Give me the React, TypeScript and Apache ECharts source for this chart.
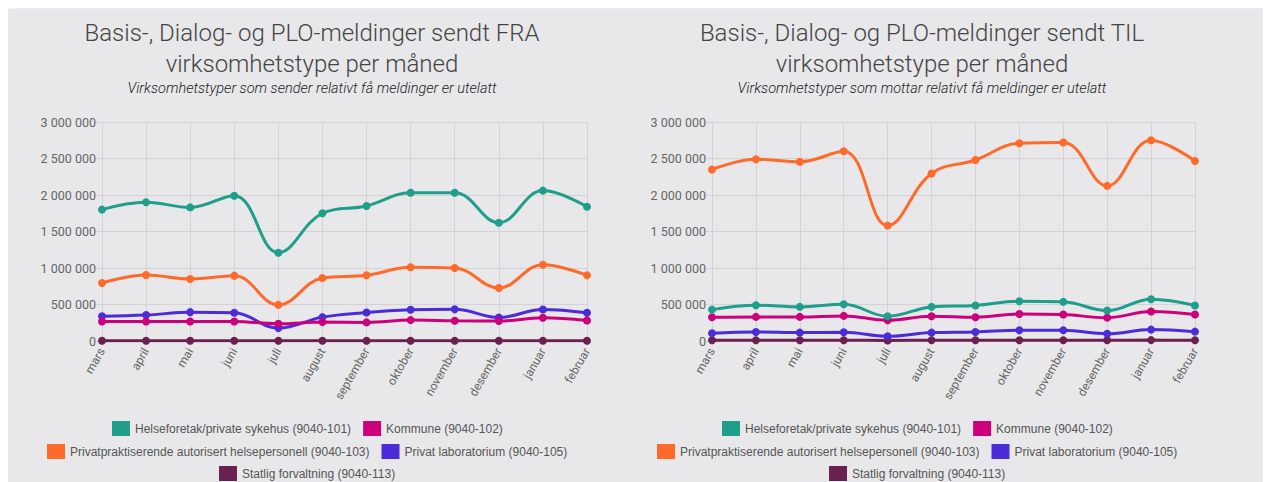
import React, { useEffect, useRef } from "react";
import * as echarts from "echarts";

const months = ["mars", "april", "mai", "juni", "juli", "august", "september", "oktober", "november", "desember", "januar", "februar"];

const seriesNames = [
  "Helseforetak/private sykehus (9040-101)",
  "Kommune (9040-102)",
  "Privatpraktiserende autorisert helsepersonell (9040-103)",
  "Privat laboratorium (9040-105)",
  "Statlig forvaltning (9040-113)",
];
const seriesColors = ["#1e9e8b", "#cc007a", "#ff6a2a", "#4c2bd9", "#6b2150"];

// FRA (sent from)
const fraHelseforetak = [1800000, 1900000, 1830000, 1990000, 1210000, 1750000, 1850000, 2030000, 2030000, 1620000, 2060000, 1840000];
const fraKommune = [268000, 268000, 268000, 268000, 236000, 259000, 255000, 286000, 277000, 273000, 318000, 282000];
const fraPrivatpraktiserende = [795000, 905000, 850000, 895000, 495000, 864000, 900000, 1010000, 1000000, 727000, 1045000, 900000];
const fraLaboratorium = [340000, 355000, 395000, 386000, 177000, 327000, 390000, 427000, 436000, 323000, 432000, 386000];
const fraStatlig = [4000, 4000, 4000, 4000, 3000, 4000, 4000, 4000, 4000, 4000, 4000, 4000];

// TIL (sent to)
const tilHelseforetak = [430000, 490000, 467000, 504000, 339000, 467000, 486000, 545000, 536000, 417000, 573000, 486000];
const tilKommune = [325000, 330000, 330000, 344000, 284000, 339000, 325000, 371000, 362000, 320000, 403000, 362000];
const tilPrivatpraktiserende = [2350000, 2490000, 2455000, 2600000, 1580000, 2295000, 2480000, 2710000, 2720000, 2125000, 2750000, 2465000];
const tilLaboratorium = [105000, 124000, 115000, 119000, 64000, 115000, 124000, 147000, 147000, 100000, 156000, 128000];
const tilStatlig = [10000, 11000, 10000, 11000, 8000, 10000, 10000, 11000, 11000, 10000, 12000, 11000];

const yTickMax = 3000000;
const yTickInterval = 500000;

const fmt = (v: number) => String(v).replace(/\B(?=(\d{3})+(?!\d))/g, " ");

function buildOption(
  title: string,
  subtitle: string,
  data: number[][],
  gridLeft: number,
  gridWidth: number,
  legendLefts: number[]
) {
  const legendRows = [
    [seriesNames[0], seriesNames[1]],
    [seriesNames[2], seriesNames[3]],
    [seriesNames[4]],
  ];
  const legendTops = [412, 435, 457];
  return {
    animation: false,
    textStyle: { fontFamily: "Roboto, 'Liberation Sans', sans-serif" },
    title: {
      text: title,
      subtext: subtitle,
      left: "center",
      top: 8,
      padding: 0,
      itemGap: 0,
      textStyle: { fontSize: 24, fontWeight: 300, color: "#444", lineHeight: 31, fontFamily: "Roboto" },
      subtextStyle: { fontSize: 14.5, fontStyle: "italic", fontWeight: 300, color: "#222", lineHeight: 19, fontFamily: "Roboto" },
    },
    legend: legendRows.map((row, i) => ({
      data: row,
      left: legendLefts[i],
      top: legendTops[i],
      padding: 0,
      orient: "horizontal",
      icon: "rect",
      itemWidth: 18,
      itemHeight: 15,
      itemGap: 12,
      selectedMode: false,
      textStyle: { fontSize: 12, color: "#555", fontFamily: "'Liberation Sans', Arial, sans-serif" },
    })),
    grid: { left: gridLeft, width: gridWidth, top: 113, height: 219 },
    xAxis: {
      type: "category",
      data: months,
      boundaryGap: false,
      axisLine: { show: false },
      axisTick: { show: false },
      axisLabel: { rotate: 60, color: "#666", fontSize: 12, margin: 8, interval: 0 },
      splitLine: { show: true, lineStyle: { color: "#d3d3d6", width: 1 } },
    },
    yAxis: {
      type: "value",
      min: 0,
      max: yTickMax,
      interval: yTickInterval,
      axisLine: { show: false },
      axisTick: { show: true, length: 7, lineStyle: { color: "#d3d3d6" } },
      axisLabel: { color: "#666", fontSize: 12.5, margin: 6, formatter: (v: number) => fmt(v) },
      splitLine: { show: true, lineStyle: { color: "#d3d3d6", width: 1 } },
    },
    series: data.map((d, i) => ({
      name: seriesNames[i],
      type: "line",
      data: d,
      smooth: 0.4,
      symbol: "circle",
      symbolSize: 8,
      lineStyle: { width: 3, color: seriesColors[i] },
      itemStyle: { color: seriesColors[i] },
      z: 10 - i,
    })),
  };
}

function Chart({ option, style }: { option: any; style: React.CSSProperties }) {
  const ref = useRef<HTMLDivElement>(null);
  useEffect(() => {
    if (!ref.current) return;
    const chart = echarts.init(ref.current, undefined, { renderer: "svg" });
    chart.setOption(option);
    return () => chart.dispose();
  }, [option]);
  return <div ref={ref} style={style} />;
}

const fraOption = buildOption(
  "Basis-, Dialog- og PLO-meldinger sendt FRA\nvirksomhetstype per måned",
  "Virksomhetstyper som sender relativt få meldinger er utelatt",
  [fraHelseforetak, fraKommune, fraPrivatpraktiserende, fraLaboratorium, fraStatlig],
  94,
  485,
  [104, 39, 211]
);
const tilOption = buildOption(
  "Basis-, Dialog- og PLO-meldinger sendt TIL\nvirksomhetstype per måned",
  "Virksomhetstyper som mottar relativt få meldinger er utelatt",
  [tilHelseforetak, tilKommune, tilPrivatpraktiserende, tilLaboratorium, tilStatlig],
  96,
  483,
  [106, 41, 213]
);

export default function App() {
  return (
    <div
      style={{
        position: "relative",
        top: 1,
        width: 1256,
        height: 474,
        background: "#e8e8ea",
        boxShadow: "3px 2px 5px rgba(0,0,0,0.45)",
      }}
    >
      <Chart option={fraOption} style={{ position: "absolute", left: 0, top: 0, width: 608, height: 474 }} />
      <Chart option={tilOption} style={{ position: "absolute", left: 608, top: 0, width: 612, height: 474 }} />
    </div>
  );
}
